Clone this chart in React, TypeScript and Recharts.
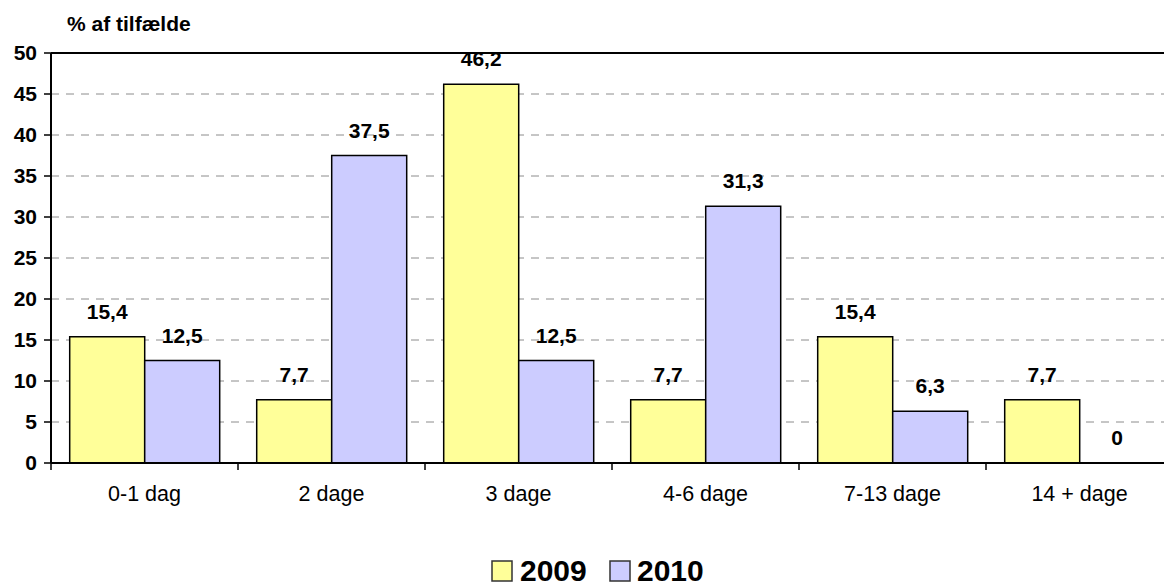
import React from "react";
import {
  BarChart,
  Bar,
  Cell,
  XAxis,
  YAxis,
  CartesianGrid,
  ReferenceLine,
  LabelList,
} from "recharts";

const categories = ["0-1 dag", "2 dage", "3 dage", "4-6 dage", "7-13 dage", "14 + dage"];
const values2009 = [15.4, 7.7, 46.2, 7.7, 15.4, 7.7];
const values2010 = [12.5, 37.5, 12.5, 31.3, 6.3, 0];
const yTicks = [0, 5, 10, 15, 20, 25, 30, 35, 40, 45, 50];

const FONT = "Arial, 'Liberation Sans', sans-serif";
const YELLOW = "#FFFF99";
const BLUE = "#CCCCFF";

const CHART_W = 1180;
const CHART_H = 586;
const Y_AXIS_W = 51;
const PLOT_W = 1122;
const BAND = PLOT_W / categories.length;

const data = categories.map((name, i) => ({
  name,
  y2009: values2009[i],
  y2010: values2010[i],
}));

const fmt = (v: any) => String(v).replace(".", ",");

const labelStyle = { fill: "#000", fontFamily: FONT, fontSize: 21, fontWeight: "bold" };

// category labels centred, tick marks on the band edges
const CategoryTick = (props: any) => {
  const { x, y, payload } = props;
  const edge = x - BAND / 2;
  return (
    <g>
      <line x1={edge} y1={y} x2={edge} y2={y + 7} stroke="#000" strokeWidth={1.5} />
      <text
        x={x}
        y={y + 23}
        dy="0.71em"
        textAnchor="middle"
        fill="#000"
        style={{ fontFamily: FONT, fontSize: 21.5 }}
      >
        {payload.value}
      </text>
    </g>
  );
};

export default function App() {
  return (
    <div
      style={{
        position: "absolute",
        left: 0,
        top: 0,
        width: 1164,
        height: 586,
        overflow: "hidden",
        background: "#fff",
      }}
    >
      <BarChart
        width={CHART_W}
        height={CHART_H}
        data={data}
        margin={{ top: 53, right: CHART_W - Y_AXIS_W - PLOT_W, bottom: 83, left: 0 }}
        barCategoryGap="10%"
        barGap={0}
      >
        <CartesianGrid vertical={false} stroke="#8c8c8c" strokeDasharray="8 7" />
        <XAxis
          dataKey="name"
          height={40}
          axisLine={{ stroke: "#000", strokeWidth: 2 }}
          tickLine={false}
          tickSize={0}
          tickMargin={0}
          interval={0}
          tick={<CategoryTick />}
        />
        <YAxis
          width={Y_AXIS_W}
          domain={[0, 50]}
          ticks={yTicks}
          interval={0}
          axisLine={{ stroke: "#000", strokeWidth: 2 }}
          tickLine={{ stroke: "#000", strokeWidth: 1.5 }}
          tickSize={7}
          tickMargin={7}
          tick={{ fill: "#000", fontFamily: FONT, fontSize: 21, fontWeight: "bold" }}
        />
        <ReferenceLine y={50} stroke="#000" strokeWidth={2} />
        <Bar dataKey="y2009" name="2009" fill={YELLOW} stroke="#000" strokeWidth={1.5} isAnimationActive={false}>
          <LabelList dataKey="y2009" position="top" offset={18} formatter={fmt} style={labelStyle} />
        </Bar>
        <Bar
          dataKey="y2010"
          name="2010"
          fill={BLUE}
          stroke="#000"
          strokeWidth={1.5}
          minPointSize={0.5}
          isAnimationActive={false}
        >
          {values2010.map((v, i) => (
            <Cell key={i} stroke={v > 0 ? "#000" : "none"} fill={v > 0 ? BLUE : "none"} />
          ))}
          <LabelList dataKey="y2010" position="top" offset={18} formatter={fmt} style={labelStyle} />
        </Bar>
      </BarChart>

      <svg
        width={1164}
        height={586}
        style={{ position: "absolute", left: 0, top: 0, pointerEvents: "none" }}
      >
        <text x={67} y={31} fill="#000" style={{ fontFamily: FONT, fontSize: 21, fontWeight: "bold" }}>
          % af tilfælde
        </text>
        <rect x={492} y={561} width={20} height={20} fill={YELLOW} stroke="#333" strokeWidth={1.5} />
        <text x={520} y={581} fill="#000" style={{ fontFamily: FONT, fontSize: 30, fontWeight: "bold" }}>
          2009
        </text>
        <rect x={610} y={561} width={20} height={20} fill={BLUE} stroke="#333" strokeWidth={1.5} />
        <text x={637} y={581} fill="#000" style={{ fontFamily: FONT, fontSize: 30, fontWeight: "bold" }}>
          2010
        </text>
      </svg>
    </div>
  );
}
